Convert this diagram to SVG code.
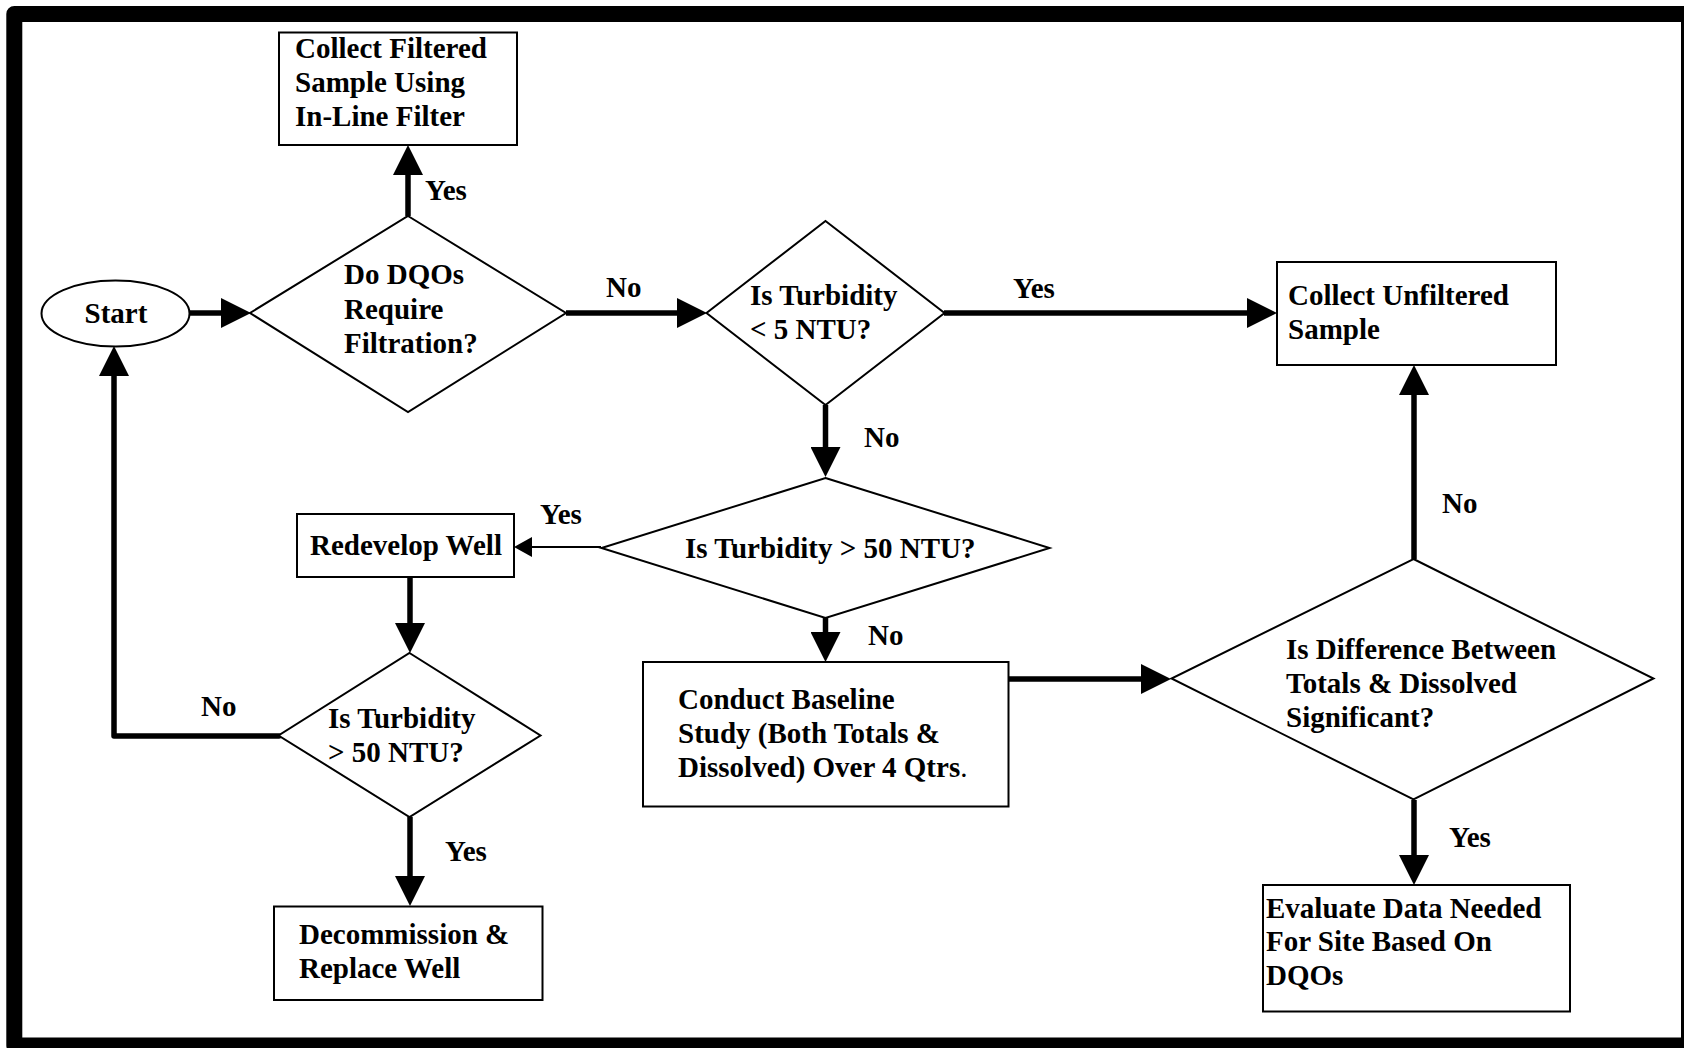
<svg xmlns="http://www.w3.org/2000/svg" width="1684" height="1048" viewBox="0 0 1684 1048">
<style>
  .shape { fill: #ffffff; stroke: #000000; stroke-width: 2; }
  .t { font-family: "Liberation Serif", "Times New Roman", serif; font-weight: bold; font-size: 29px; fill: #000000; }
  .c { fill: none; stroke: #000000; stroke-width: 5.5; }
  .thin { fill: none; stroke: #000000; stroke-width: 2; }
</style>
<defs>
  <marker id="ah" markerUnits="userSpaceOnUse" markerWidth="30" markerHeight="30" refX="2" refY="15" orient="auto">
    <path d="M0,0 L30,15 L0,30 Z" fill="#000000"/>
  </marker>
  <marker id="ahs" markerUnits="userSpaceOnUse" markerWidth="18" markerHeight="20" refX="2" refY="10" orient="auto">
    <path d="M0,0 L18,10 L0,20 Z" fill="#000000"/>
  </marker>
</defs>
<rect x="0" y="0" width="1684" height="1048" fill="#ffffff"/>
<rect id="frame" x="14.3" y="14" width="1674.7" height="1031.5" fill="none" stroke="#000000" stroke-width="16" stroke-linejoin="round"/>

<g id="connectors">
  <path class="c" d="M189,313 H223" marker-end="url(#ah)"/>
  <path class="c" d="M408,216 V173" marker-end="url(#ah)"/>
  <path class="c" d="M566,313 H679" marker-end="url(#ah)"/>
  <path class="c" d="M944,313 H1249" marker-end="url(#ah)"/>
  <path class="c" d="M825.5,405 V449" marker-end="url(#ah)"/>
  <path class="thin" d="M601,547 H530" marker-end="url(#ahs)"/>
  <path class="c" d="M410,577 V625" marker-end="url(#ah)"/>
  <path class="c" d="M279,736 H114 V374" stroke-linejoin="round" stroke-linecap="round" marker-end="url(#ah)"/>
  <path class="c" d="M410,817 V878" marker-end="url(#ah)"/>
  <path class="c" d="M825.5,618 V634" marker-end="url(#ah)"/>
  <path class="c" d="M1007,679 H1143" stroke-linecap="round" marker-end="url(#ah)"/>
  <path class="c" d="M1414,559 V393" marker-end="url(#ah)"/>
  <path class="c" d="M1414,800 V857" marker-end="url(#ah)"/>
  <text class="t" x="425" y="200">Yes</text>
  <text class="t" x="606" y="297">No</text>
  <text class="t" x="1013" y="298">Yes</text>
  <text class="t" x="864" y="447">No</text>
  <text class="t" x="540" y="524">Yes</text>
  <text class="t" x="868" y="645">No</text>
  <text class="t" x="201" y="716">No</text>
  <text class="t" x="445" y="861">Yes</text>
  <text class="t" x="1442" y="513">No</text>
  <text class="t" x="1449" y="847">Yes</text>
</g>

<g id="start">
  <ellipse class="shape" cx="115.5" cy="313.5" rx="74" ry="33"/>
  <text class="t" x="116" y="323" text-anchor="middle">Start</text>
</g>

<g id="collect-filtered">
  <rect class="shape" x="279" y="32.5" width="238" height="112.5"/>
  <text class="t" x="295" y="58">Collect Filtered</text>
  <text class="t" x="295" y="92">Sample Using</text>
  <text class="t" x="295" y="126">In-Line Filter</text>
</g>

<g id="dqo-decision">
  <polygon class="shape" points="408,216 566,313 408,412 250,313"/>
  <text class="t" x="344" y="284">Do DQOs</text>
  <text class="t" x="344" y="318.5">Require</text>
  <text class="t" x="344" y="353">Filtration?</text>
</g>

<g id="turbidity-5">
  <polygon class="shape" points="825.5,221 944.5,313 825.5,405 706.5,313"/>
  <text class="t" x="750" y="305">Is Turbidity</text>
  <text class="t" x="750" y="339">&lt; 5 NTU?</text>
</g>

<g id="collect-unfiltered">
  <rect class="shape" x="1277" y="262" width="279" height="103"/>
  <text class="t" x="1288" y="305">Collect Unfiltered</text>
  <text class="t" x="1288" y="339">Sample</text>
</g>

<g id="turbidity-50">
  <polygon class="shape" points="825.5,478 1049.5,548 825.5,618 601.5,548"/>
  <text class="t" x="685" y="558">Is Turbidity &gt; 50 NTU?</text>
</g>

<g id="redevelop">
  <rect class="shape" x="297" y="514" width="217" height="63"/>
  <text class="t" x="310" y="555">Redevelop Well</text>
</g>

<g id="turbidity-50-recheck">
  <polygon class="shape" points="409.5,653 540.5,735.5 409.5,817 278.5,735.5"/>
  <text class="t" x="328" y="727.5">Is Turbidity</text>
  <text class="t" x="328" y="762">&gt; 50 NTU?</text>
</g>

<g id="decommission">
  <rect class="shape" x="274" y="906.5" width="268.5" height="93.5"/>
  <text class="t" x="299" y="944">Decommission &amp;</text>
  <text class="t" x="299" y="978">Replace Well</text>
</g>

<g id="baseline-study">
  <rect class="shape" x="643" y="662" width="365.5" height="144.5"/>
  <text class="t" x="678" y="709">Conduct Baseline</text>
  <text class="t" x="678" y="743">Study (Both Totals &amp;</text>
  <text class="t" x="678" y="777">Dissolved) Over 4 Qtrs<tspan font-weight="normal">.</tspan></text>
</g>

<g id="difference-decision">
  <polygon class="shape" points="1413.5,559 1653.5,678.5 1413.5,799.5 1171.5,678.5"/>
  <text class="t" x="1286" y="659">Is Difference Between</text>
  <text class="t" x="1286" y="693">Totals &amp; Dissolved</text>
  <text class="t" x="1286" y="727">Significant?</text>
</g>

<g id="evaluate">
  <rect class="shape" x="1263" y="885" width="307" height="126.5"/>
  <text class="t" x="1266" y="918">Evaluate Data Needed</text>
  <text class="t" x="1266" y="951">For Site Based On</text>
  <text class="t" x="1266" y="985">DQOs</text>
</g>
</svg>
